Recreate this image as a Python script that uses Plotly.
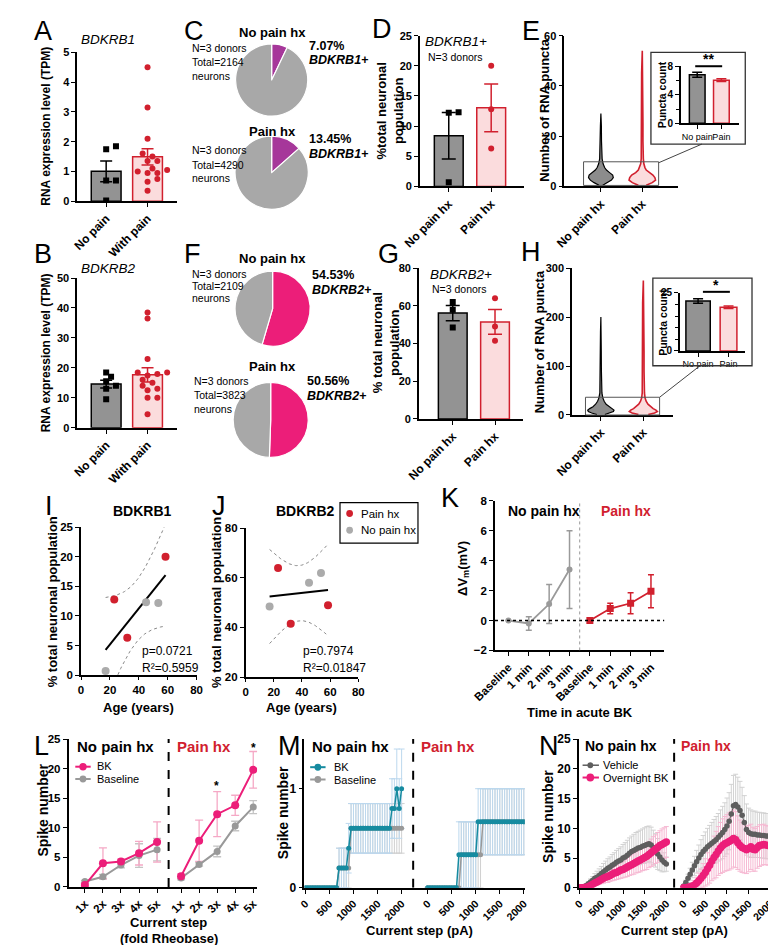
import numpy as np
import plotly.graph_objects as go

# ---------------- data ----------------
A_cats = ['No pain', 'With pain']
A_nopain = [1.85, 1.75, 0.7, 0.7, 0.02]
A_pain = [4.5, 3.15, 2.1, 1.6, 1.5, 1.35, 1.35, 1.1, 1.05, 1.0, 0.95, 0.95, 0.75, 0.65, 0.35]
B_nopain = [18.5, 17, 15.5, 14, 13, 9.5]
B_pain = [38.5, 36.5, 23, 18.5, 18.5, 18, 17.5, 16, 15, 14, 13, 12.5, 10, 10, 4.5]

C_pos = [7.07, 13.45]      # % BDKRB1+ neurons (no pain hx, pain hx)
C_total = [2164, 4290]
F_pos = [54.53, 50.56]     # % BDKRB2+ neurons
F_total = [2109, 3823]

hx_cats = ['No pain hx', 'Pain hx']
age_nopain = [17, 45, 53.5]
age_pain = [23, 32, 58.5]
B1_nopain = [0.7, 12.3, 12.2]
B1_pain = [12.8, 6.3, 20.0]
B2_nopain = [48.5, 58, 62]
B2_pain = [64, 41.5, 49]

# violin outlines: puncta value and relative density
E_vio_np_y = [0.5, 1.5, 2.5, 3.5, 4.5, 5.5, 6.5, 7.5, 9, 11, 14, 18, 24, 29]
E_vio_np_d = [0.15, 0.55, 0.85, 1.0, 0.95, 0.7, 0.45, 0.3, 0.18, 0.1, 0.07, 0.05, 0.04, 0.0]
E_vio_p_y = [0.5, 1.5, 2.5, 3.5, 4.5, 5.5, 6.5, 7.5, 9, 11, 14, 18, 25, 35, 45, 54]
E_vio_p_d = [0.3, 0.75, 1.0, 0.95, 0.8, 0.5, 0.3, 0.2, 0.12, 0.08, 0.06, 0.05, 0.05, 0.05, 0.05, 0.0]
H_vio_np_y = [1, 4, 7, 10, 13, 17, 22, 28, 35, 45, 60, 90, 130, 170, 200]
H_vio_np_d = [0.3, 0.7, 0.95, 1.0, 0.85, 0.6, 0.4, 0.25, 0.15, 0.08, 0.05, 0.04, 0.03, 0.03, 0.0]
H_vio_p_y = [1, 4, 7, 10, 13, 17, 22, 28, 35, 45, 60, 90, 130, 180, 230, 275]
H_vio_p_d = [0.35, 0.8, 1.0, 0.9, 0.7, 0.5, 0.33, 0.2, 0.12, 0.08, 0.06, 0.05, 0.05, 0.05, 0.05, 0.0]

inset_cats = ['No pain', 'Pain']
E_inset_mean = [6.8, 6.05]
E_inset_sem = [0.35, 0.18]
H_inset_mean = [21.5, 18.8]
H_inset_sem = [1.0, 0.5]

K_labels = ['Baseline', '1 min', '2 min', '3 min']
K_nopain = [0, -0.2, 1.1, 3.4]
K_nopain_err = [0, 0.45, 1.3, 2.6]
K_pain = [0, 0.8, 1.15, 1.95]
K_pain_err = [0, 0.35, 0.7, 1.1]

L_steps = ['1x', '2x', '3x', '4x', '5x']
L_np_bk = [0.3, 4.0, 4.3, 5.7, 7.6]
L_np_bk_err = [0.3, 2.6, 0.4, 2.0, 3.4]
L_np_base = [0.9, 1.7, 3.7, 5.3, 6.3]
L_np_base_err = [0.2, 0.4, 0.5, 2.0, 1.9]
L_p_bk = [1.8, 7.8, 12.3, 13.8, 19.8]
L_p_bk_err = [0.4, 3.5, 3.8, 1.7, 3.1]
L_p_base = [1.5, 3.8, 6.0, 10.3, 13.5]
L_p_base_err = [0.3, 0.3, 0.9, 0.8, 1.1]

step_pA = list(range(0, 2001, 50))
M_np_bk = [0]*14 + [0.2]*4 + [0.4] + [0.6]*17 + [0.8, 0.8, 1.0, 0.8, 1.0]
M_np_bk_err = [0]*14 + [0.2]*4 + [0.25] + [0.25]*17 + [0.3, 0.3, 0.4, 0.3, 0.4]
M_np_base = [0]*14 + [0.2]*5 + [0.6]*22
M_np_base_err = [0]*14 + [0.2]*5 + [0.25]*22
M_p_bk = [0]*13 + [0.333]*8 + [0.667]*20
M_p_bk_err = [0]*13 + [0.333]*8 + [0.333]*20
M_p_base = [0]*14 + [0.333]*9 + [0.667]*18
M_p_base_err = [0]*14 + [0.333]*9 + [0.333]*18

N_np_veh = [0, 0.05, 0.2, 0.4, 0.7, 1.0, 1.3, 1.6, 1.8, 2.1, 2.4, 2.7, 3.0, 3.3, 3.5, 3.8, 4.0,
            4.3, 4.5, 4.7, 5.0, 5.2, 5.5, 5.8, 6.1, 6.3, 6.5, 6.7, 6.8, 7.0, 7.1, 7.3, 7.4, 7.2,
            6.8, 6.3, 5.7, 5.2, 4.7, 4.3, 4.0]
N_np_veh_err = [0, 0, 0.1, 0.2, 0.3, 0.5, 0.6, 0.8, 1.0, 1.1, 1.2, 1.4, 1.5, 1.6, 1.7, 1.8, 1.9,
                2.0, 2.1, 2.2, 2.3, 2.4, 2.5, 2.6, 2.6, 2.7, 2.8, 2.8, 2.9, 2.9, 3.0, 3.0, 3.0, 3.0,
                2.9, 2.8, 2.6, 2.3, 2.0, 1.6, 1.2]
N_np_bk = [0, 0, 0.05, 0.1, 0.2, 0.4, 0.6, 0.8, 1.0, 1.2, 1.4, 1.6, 1.8, 1.9, 2.1, 2.3, 2.5,
           2.6, 2.8, 3.0, 3.1, 3.3, 3.5, 3.7, 3.9, 4.1, 4.3, 4.5, 4.7, 4.9, 5.1, 5.3, 5.6, 5.9,
           6.2, 6.5, 6.8, 7.1, 7.3, 7.5, 7.7]
N_np_bk_err = [0, 0, 0, 0.1, 0.1, 0.2, 0.3, 0.4, 0.5, 0.6, 0.7, 0.8, 0.9, 1.0, 1.0, 1.1, 1.2,
               1.2, 1.3, 1.4, 1.4, 1.5, 1.6, 1.6, 1.7, 1.8, 1.8, 1.9, 2.0, 2.0, 2.1, 2.2, 2.2, 2.3,
               2.4, 2.4, 2.5, 2.5, 2.6, 2.6, 2.6]
N_p_veh = [0.3, 0.9, 1.6, 2.3, 3.0, 3.7, 4.4, 5.0, 5.6, 6.1, 6.5, 6.9, 7.2, 7.5, 7.8, 8.1, 8.5,
           8.9, 9.3, 9.8, 10.4, 11.2, 12.4, 13.8, 14.0, 13.6, 13.0, 12.2, 11.0, 9.8, 9.3, 9.1,
           9.0, 9.0, 8.9, 8.9, 8.8, 8.8, 8.7, 8.7, 8.6]
N_p_veh_err = [0.2, 0.4, 0.7, 1.0, 1.3, 1.6, 1.9, 2.2, 2.5, 2.7, 2.9, 3.1, 3.3, 3.5, 3.7, 3.9,
               4.0, 4.2, 4.4, 4.5, 4.7, 4.8, 5.0, 5.1, 5.1, 5.0, 4.9, 4.7, 4.5, 4.3, 4.1, 4.0,
               3.9, 3.9, 3.8, 3.8, 3.8, 3.8, 3.8, 3.8, 3.9]
N_p_bk = [0, 0, 0.1, 0.2, 0.3, 0.5, 0.8, 1.2, 1.6, 2.1, 2.6, 3.2, 3.8, 4.5, 5.1, 5.6, 6.2, 6.7,
          7.1, 7.4, 7.6, 7.8, 8.0, 8.3, 8.1, 7.6, 7.1, 6.8, 6.6, 6.4, 6.6, 6.9, 6.5, 6.4, 6.8,
          7.1, 7.2, 7.3, 7.2, 7.1, 7.1]
N_p_bk_err = [0, 0, 0.1, 0.3, 0.5, 0.7, 1.0, 1.3, 1.6, 2.0, 2.3, 2.7, 3.0, 3.3, 3.6, 3.9, 4.1,
              4.3, 4.5, 4.6, 4.7, 4.8, 4.8, 4.8, 4.7, 4.5, 4.3, 4.2, 4.1, 4.0, 3.9, 3.8, 3.7,
              3.6, 3.5, 3.5, 3.4, 3.4, 3.3, 3.3, 3.2]

# ---------------- styling ----------------
W, H = 776, 945
FONT = 'Liberation Sans, Arial, Helvetica, sans-serif'
GRAY = '#939393'
RED = '#D1202E'
PINKFILL = '#FBDCDD'
PURPLE = '#A6379A'
MAGENTA = '#EC1E79'
PIEGRAY = '#A8A8A8'
LGRAY = '#ABABAB'
TEAL = '#168BA0'

fig = go.Figure()
layout = {}
anns = []
shapes = []
n_ax = [0]


def add_axes(x0, x1, y0, y1, xr, yr, xkw=None, ykw=None, fs=11):
    n_ax[0] += 1
    k = n_ax[0]
    s = '' if k == 1 else str(k)
    base = dict(showline=True, linecolor='black', linewidth=1.5, ticks='outside',
                ticklen=4, tickwidth=1.3, tickcolor='black', showgrid=False,
                zeroline=False, fixedrange=True,
                tickfont=dict(family=FONT, size=fs, color='black', weight='bold'))
    xa = dict(base, domain=[x0 / W, x1 / W], range=xr, anchor='y' + s)
    ya = dict(base, domain=[1 - y1 / H, 1 - y0 / H], range=yr, anchor='x' + s)
    xa.update(xkw or {})
    ya.update(ykw or {})
    layout['xaxis' + s] = xa
    layout['yaxis' + s] = ya
    return 'x' + s, 'y' + s


def txt(x, y, s, size=12, color='black', xa='left', ya='middle', angle=0):
    anns.append(dict(x=x / W, y=1 - y / H, xref='paper', yref='paper', text=s,
                     showarrow=False, xanchor=xa, yanchor=ya, textangle=angle,
                     font=dict(family=FONT, size=size, color=color)))


def pline(x0, y0, x1, y1, color='black', width=1, dash='solid'):
    shapes.append(dict(type='line', xref='paper', yref='paper', x0=x0 / W, x1=x1 / W,
                       y0=1 - y0 / H, y1=1 - y1 / H, line=dict(color=color, width=width, dash=dash)))


def prect(x0, y0, x1, y1, color='#444', width=1.2):
    shapes.append(dict(type='rect', xref='paper', yref='paper', x0=x0 / W, x1=x1 / W,
                       y0=1 - y1 / H, y1=1 - y0 / H, line=dict(color=color, width=width)))


def pdot(x, y, r, color):
    shapes.append(dict(type='circle', xref='paper', yref='paper', x0=(x - r) / W, x1=(x + r) / W,
                       y0=1 - (y + r) / H, y1=1 - (y - r) / H, fillcolor=color,
                       line=dict(color=color, width=0)))


def swarm(vals, unit_px, cat_px, d=6.0):
    vals = np.asarray(vals, float)
    placed, offs = [], np.zeros(len(vals))
    for i in np.argsort(vals):
        y = vals[i] * unit_px
        for k in [0, 1, -1, 2, -2, 3, -3, 4, -4]:
            x = k * d * 0.85
            if all((x - a) ** 2 + (y - b) ** 2 >= d * d for a, b in placed):
                break
        placed.append((x, y))
        offs[i] = x / cat_px
    return offs


def err_trace(x, y, err, color, xa, ya, thick=1.5, cap=6):
    fig.add_trace(go.Scatter(x=x, y=y, mode='markers', xaxis=xa, yaxis=ya,
                             marker=dict(size=1, color='rgba(0,0,0,0)'),
                             error_y=dict(type='data', array=err, color=color,
                                          thickness=thick, width=cap),
                             hoverinfo='skip'))


def bar_panel(xa, ya, groups, width, unit_px, cat_px, cap=6, psize=6):
    means, sems = [], []
    for v in groups:
        v = np.asarray(v, float)
        means.append(v.mean())
        sems.append(v.std(ddof=1) / np.sqrt(len(v)))
    fig.add_trace(go.Bar(x=[0, 1], y=means, width=width, xaxis=xa, yaxis=ya,
                         marker=dict(color=[GRAY, PINKFILL],
                                     line=dict(color=['black', RED], width=1.5))))
    err_trace([0], [means[0]], [sems[0]], 'black', xa, ya, cap=cap)
    err_trace([1], [means[1]], [sems[1]], RED, xa, ya, cap=cap)
    for i, v in enumerate(groups):
        offs = swarm(v, unit_px, cat_px)
        fig.add_trace(go.Scatter(x=i + offs, y=v, mode='markers', xaxis=xa, yaxis=ya,
                                 marker=dict(symbol='square' if i == 0 else 'circle',
                                             size=psize, color='black' if i == 0 else RED)))


def violin(xa, ya, c, ys, ds, half, fill, edge, lw):
    ys = np.asarray(ys, float)
    w = half * np.asarray(ds, float)
    xs = np.concatenate([c + w, (c - w)[::-1]])
    yy = np.concatenate([ys, ys[::-1]])
    fig.add_trace(go.Scatter(x=xs, y=yy, mode='lines', fill='toself', fillcolor=fill,
                             line=dict(color=edge, width=lw), xaxis=xa, yaxis=ya))


def fit_band(x, y):
    x = np.asarray(x, float)
    y = np.asarray(y, float)
    b, a = np.polyfit(x, y, 1)
    xs = np.linspace(x.min(), x.max(), 80)
    n = len(x)
    s = np.sqrt(np.sum((y - (a + b * x)) ** 2) / (n - 2))
    se = s * np.sqrt(1 / n + (xs - x.mean()) ** 2 / np.sum((x - x.mean()) ** 2))
    t = 2.776  # t(0.975, df=4)
    yh = a + b * xs
    return xs, yh, yh - t * se, yh + t * se


def cat_kw(labels, ang=-45, fs=12, bold=True):
    return dict(tickvals=list(range(len(labels))), ticktext=labels, tickangle=ang,
                tickfont=dict(family=FONT, size=fs, color='black',
                              weight='bold' if bold else 'normal'))


MINOR = dict(ticks='outside', ticklen=3, tickwidth=1.2, tickcolor='black', showgrid=False)

# ---------------- A / B ----------------
xa, ya = add_axes(48, 152, 38, 189, [-0.70, 1.72], [0, 5], cat_kw(A_cats), dict(dtick=1))
bar_panel(xa, ya, [A_nopain, A_pain], 0.72, 151 / 5, 43)
txt(50, 25, '<i>BDKRB1</i>', 13.5)
txt(16, 113, '<b>RNA expression level (TPM)</b>', 12, xa='center', angle=-90)

xa, ya = add_axes(48, 152, 267, 419, [-0.70, 1.72], [0, 50], cat_kw(A_cats), dict(dtick=10))
bar_panel(xa, ya, [B_nopain, B_pain], 0.72, 152 / 50, 43)
txt(50, 257, '<i>BDKRB2</i>', 13.5)
txt(16, 343, '<b>RNA expression level (TPM)</b>', 12, xa='center', angle=-90)

# ---------------- C / F pies ----------------
pies = [(250, 66, 37.5, C_pos[0], PURPLE), (250, 160, 38, C_pos[1], PURPLE),
        (251, 298, 39, F_pos[0], MAGENTA), (249, 411, 39, F_pos[1], MAGENTA)]
for cx, cy, r, pos, col in pies:
    fig.add_trace(go.Pie(values=[pos, 100 - pos], labels=['pos', 'neg'], sort=False,
                         direction='clockwise', textinfo='none', hoverinfo='skip',
                         marker=dict(colors=[col, PIEGRAY], line=dict(color='white', width=1.2)),
                         domain=dict(x=[(cx - r) / W, (cx + r) / W], y=[1 - (cy + r) / H, 1 - (cy - r) / H])))

pie_txt = [(18, 33, 48, 62, 165, 31, 46, 287, C_pos[0], C_total[0], 'BDKRB1+', 'No pain hx'),
           (118, 137, 152, 165, 165, 126, 141, 287, C_pos[1], C_total[1], 'BDKRB1+', 'Pain hx'),
           (247, 263, 275, 287, 165, 264, 279, 290, F_pos[0], F_total[0], 'BDKRB2+', 'No pain hx'),
           (357, 372, 386, 400, 167, 372, 387, 285, F_pos[1], F_total[1], 'BDKRB2+', 'Pain hx')]
for ty, l1, l2, l3, lx, r1, r2, rx, pos, tot, gene, title in pie_txt:
    txt(251, ty, '<b>%s</b>' % title, 13, xa='center')
    txt(lx, l1, 'N=3 donors', 10.5)
    txt(lx, l2, 'Total=%d' % tot, 10.5)
    txt(lx, l3, 'neurons', 10.5)
    txt(rx, r1, '<b>%.2f%%</b>' % pos, 12.5)
    txt(rx, r2, '<b><i>%s</i></b>' % gene, 12.5)

# ---------------- D / G ----------------
xa, ya = add_axes(404, 512, 21, 174, [-0.68, 1.77], [0, 25], cat_kw(hx_cats), dict(dtick=5))
bar_panel(xa, ya, [B1_nopain, B1_pain], 0.68, 153 / 25, 44, cap=7)
txt(407, 27, '<i>BDKRB1+</i>', 13.5)
txt(410, 43, 'N=3 donors', 10.5)
txt(373, 97, '<b>%total neuronal<br>population</b>', 13, xa='center', angle=-90)

xa, ya = add_axes(403, 511, 257, 410, [-0.80, 1.66], [0, 80], cat_kw(hx_cats), dict(dtick=20))
bar_panel(xa, ya, [B2_nopain, B2_pain], 0.68, 153 / 80, 44, cap=7)
txt(412, 263, '<i>BDKRB2+</i>', 13.5)
txt(415, 278, 'N=3 donors', 10.5)
txt(369, 333, '<b>% total neuronal<br>population</b>', 13, xa='center', angle=-90)

# ---------------- E / H violins ----------------
xa, ya = add_axes(554, 672, 21, 174, [-0.884, 1.86], [0, 60], cat_kw(hx_cats), dict(dtick=20))
violin(xa, ya, 0, E_vio_np_y, E_vio_np_d, 0.30, '#8C8C8C', 'black', 1.2)
violin(xa, ya, 1, E_vio_p_y, E_vio_p_d, 0.32, PINKFILL, RED, 1.6)
txt(533, 97, '<b>Number of RNA puncta</b>', 13, xa='center', angle=-90)
prect(574, 149, 652, 173, '#555', 1)
pline(652, 150, 697, 131, '#444', 1)
prect(644, 38, 742, 131, '#333', 1.3)
xa, ya = add_axes(675, 735, 52, 110, [-0.68, 1.71], [0, 8], cat_kw(inset_cats, 0, 9, False),
                  dict(tickvals=[0, 4, 8], minor=dict(MINOR, dtick=2)), fs=10)
fig.add_trace(go.Bar(x=[0, 1], y=E_inset_mean, width=0.65, xaxis=xa, yaxis=ya,
                     marker=dict(color=[GRAY, PINKFILL], line=dict(color=['black', RED], width=1.5))))
err_trace([0], [E_inset_mean[0]], [E_inset_sem[0]], 'black', xa, ya, cap=5)
err_trace([1], [E_inset_mean[1]], [E_inset_sem[1]], RED, xa, ya, cap=5)
pline(690, 52, 718, 52, 'black', 2)
txt(704, 45, '<b>**</b>', 14, xa='center')
txt(655, 81, '<b>Puncta count</b>', 10.5, xa='center', angle=-90)

xa, ya = add_axes(562, 667, 257, 406, [-0.68, 1.70], [0, 300], cat_kw(hx_cats), dict(dtick=100))
violin(xa, ya, 0, H_vio_np_y, H_vio_np_d, 0.31, '#8C8C8C', 'black', 1.2)
violin(xa, ya, 1, H_vio_p_y, H_vio_p_d, 0.33, PINKFILL, RED, 1.6)
txt(528, 332, '<b>Number of RNA puncta</b>', 13, xa='center', angle=-90)
prect(576, 388, 653, 406, '#555', 1)
pline(653, 388, 695, 356, '#444', 1)
prect(646, 267, 749, 356, '#333', 1.3)
xa, ya = add_axes(674, 742, 282, 341, [-0.6, 1.55], [0, 25], cat_kw(inset_cats, 0, 9, False),
                  dict(tickvals=[0, 25], minor=dict(MINOR, dtick=5)), fs=10)
fig.add_trace(go.Bar(x=[0, 1], y=H_inset_mean, width=[0.8, 0.55], xaxis=xa, yaxis=ya,
                     marker=dict(color=[GRAY, PINKFILL], line=dict(color=['black', RED], width=1.5))))
err_trace([0], [H_inset_mean[0]], [H_inset_sem[0]], 'black', xa, ya, cap=5)
err_trace([1], [H_inset_mean[1]], [H_inset_sem[1]], RED, xa, ya, cap=5)
pline(698, 281, 726, 281, 'black', 2)
txt(712, 274, '<b>*</b>', 14, xa='center')
txt(657, 312, '<b>Puncta count</b>', 10.5, xa='center', angle=-90)

# ---------------- I / J regressions ----------------
for (x0, x1, y0, y1, yr, dt, vals_np, vals_p, title, ptxt, rtxt, tx, ytx) in [
        (52, 172, 520, 670, [0, 25], 5, B1_nopain, B1_pain, 'BDKRB1', 'p=0.0721', 'R²=0.5959', 113, 22),
        (223, 340, 521, 672, [20, 80], 20, B2_nopain, B2_pain, 'BDKRB2', 'p=0.7974', 'R²=0.01847', 280, 192)]:
    xa, ya = add_axes(x0, x1, y0, y1, [0, 80], yr, dict(dtick=20, ticklen=3), dict(dtick=dt), fs=11.5)
    ages = age_nopain + age_pain
    xs, yh, lo, hi = fit_band(ages, vals_np + vals_p)
    for band in (lo, hi):
        fig.add_trace(go.Scatter(x=xs, y=band, mode='lines', xaxis=xa, yaxis=ya,
                                 line=dict(color='#888', width=1, dash='dot')))
    fig.add_trace(go.Scatter(x=[xs[0], xs[-1]], y=[yh[0], yh[-1]], mode='lines', xaxis=xa, yaxis=ya,
                             line=dict(color='black', width=2)))
    fig.add_trace(go.Scatter(x=age_nopain, y=vals_np, mode='markers', xaxis=xa, yaxis=ya,
                             marker=dict(size=8, color=LGRAY)))
    fig.add_trace(go.Scatter(x=age_pain, y=vals_p, mode='markers', xaxis=xa, yaxis=ya,
                             marker=dict(size=8, color=RED)))
    txt((x0 + x1) / 2 + 4, 503, '<b>%s</b>' % title, 14, xa='center')
    txt(tx, 646, ptxt, 12)
    txt(tx, 663, rtxt, 12)
    txt((x0 + x1) / 2, 703, '<b>Age (years)</b>', 13, xa='center')
    txt(ytx, 596, '<b>% total neuronal population</b>', 13, xa='center', angle=-90)

prect(321, 495, 402, 536, 'black', 1.2)
pdot(331, 506, 3.5, RED)
pdot(331, 523, 3.5, LGRAY)
txt(341, 506, 'Pain hx', 11.5)
txt(341, 523, 'No pain hx', 11.5)

# ---------------- K ----------------
xa, ya = add_axes(482, 658, 493, 645, [-0.66, 7.66], [-2, 8],
                  dict(tickvals=list(range(8)), ticktext=K_labels * 2, tickangle=-45),
                  dict(dtick=2), fs=11.5)
shapes.append(dict(type='line', xref=xa, yref=ya, x0=-0.66, x1=7.66, y0=0, y1=0,
                   line=dict(color='black', width=1.5, dash='dot')))
shapes.append(dict(type='line', xref=xa, yref=ya, x0=3.5, x1=3.5, y0=-2, y1=8,
                   line=dict(color='#999', width=1, dash='dot')))
fig.add_trace(go.Scatter(x=[0, 1, 2, 3], y=K_nopain, mode='lines+markers', xaxis=xa, yaxis=ya,
                         line=dict(color='#9A9A9A', width=1.8),
                         marker=dict(size=6, color='#9A9A9A'),
                         error_y=dict(type='data', array=K_nopain_err, color='#9A9A9A', thickness=1.5, width=3)))
fig.add_trace(go.Scatter(x=[4, 5, 6, 7], y=K_pain, mode='lines+markers', xaxis=xa, yaxis=ya,
                         line=dict(color=RED, width=1.8),
                         marker=dict(size=7, color=RED, symbol='square'),
                         error_y=dict(type='data', array=K_pain_err, color=RED, thickness=1.5, width=3)))
txt(493, 503, '<b>No pain hx</b>', 14)
txt(590, 503, '<b>Pain hx</b>', 14, color=RED)
txt(449, 562, '<b>ΔV<sub>m</sub>(mV)</b>', 13, xa='center', angle=-90)
txt(570, 708, '<b>Time in acute BK</b>', 13, xa='center')

# ---------------- L ----------------
L_OFF = 5.33
xa, ya = add_axes(39, 235, 735, 885, [-0.907, 9.55], [0, 25],
                  dict(tickvals=[i for i in range(5)] + [i + L_OFF for i in range(5)],
                       ticktext=L_steps * 2, tickangle=-45),
                  dict(dtick=5), fs=11.5)
shapes.append(dict(type='line', xref=xa, yref=ya, x0=4.64, x1=4.64, y0=0, y1=25,
                   line=dict(color='black', width=2, dash='dash')))
pos_np = list(range(5))
pos_p = [i + L_OFF for i in range(5)]
for xs_, base, base_e, bk, bk_e in [(pos_np, L_np_base, L_np_base_err, L_np_bk, L_np_bk_err),
                                    (pos_p, L_p_base, L_p_base_err, L_p_bk, L_p_bk_err)]:
    err_trace(xs_, base, base_e, '#C4C4C4', xa, ya, thick=1.3, cap=4)
    err_trace(xs_, bk, bk_e, '#F5A8C5', xa, ya, thick=1.3, cap=4)
    fig.add_trace(go.Scatter(x=xs_, y=base, mode='lines+markers', xaxis=xa, yaxis=ya,
                             line=dict(color='#999', width=2), marker=dict(size=7, color='#999')))
    fig.add_trace(go.Scatter(x=xs_, y=bk, mode='lines+markers', xaxis=xa, yaxis=ya,
                             line=dict(color=MAGENTA, width=2), marker=dict(size=8, color=MAGENTA)))
txt(46, 742, '<b>No pain hx</b>', 15)
txt(150, 742, '<b>Pain hx</b>', 15, color=RED)
txt(193, 783, '<b>*</b>', 12, xa='center')
txt(231, 744, '<b>*</b>', 12, xa='center')
pline(46, 763, 62, 763, MAGENTA, 2)
pdot(54, 763, 3.8, MAGENTA)
txt(66, 762.5, 'BK', 11)
pline(46, 775.5, 62, 775.5, '#999', 2)
pdot(54, 775.5, 3.5, '#999')
txt(66, 775.5, 'Baseline', 11)
txt(12, 807, '<b>Spike number</b>', 14, xa='center', angle=-90)
txt(143, 921, '<b>Current step</b>', 13, xa='center')
txt(143, 937, '<b>(fold Rheobase)</b>', 13, xa='center')

# ---------------- M ----------------
M_OFF = 2540
ticks_pA = [0, 500, 1000, 1500, 2000]
xa, ya = add_axes(284, 513, 735, 886, [-20, 4560], [0, 1.5],
                  dict(tickvals=ticks_pA + [t + M_OFF for t in ticks_pA],
                       ticktext=[str(t) for t in ticks_pA] * 2, tickangle=-45,
                       tickfont=dict(family=FONT, size=10.5, color='black', weight='bold')),
                  dict(tickvals=[0, 1]), fs=12)
shapes.append(dict(type='line', xref=xa, yref=ya, x0=2240, x1=2240, y0=0, y1=1.5,
                   line=dict(color='black', width=2, dash='dash')))
sp_np = step_pA
sp_p = [s + M_OFF for s in step_pA]
for xs_, base, base_e, bk, bk_e in [(sp_np, M_np_base, M_np_base_err, M_np_bk, M_np_bk_err),
                                    (sp_p, M_p_base, M_p_base_err, M_p_bk, M_p_bk_err)]:
    err_trace(xs_, base, base_e, '#D0D0D0', xa, ya, thick=1, cap=3)
    err_trace(xs_, bk, bk_e, '#BCD8EE', xa, ya, thick=1, cap=3)
    fig.add_trace(go.Scatter(x=xs_, y=base, mode='lines+markers', xaxis=xa, yaxis=ya,
                             line=dict(color='#999', width=1.5), marker=dict(size=5, color='#999')))
    fig.add_trace(go.Scatter(x=xs_, y=bk, mode='lines+markers', xaxis=xa, yaxis=ya,
                             line=dict(color=TEAL, width=1.5), marker=dict(size=5, color=TEAL)))
txt(290, 742, '<b>No pain hx</b>', 15)
txt(403, 742, '<b>Pain hx</b>', 15, color=RED)
pline(290, 763.5, 306, 763.5, TEAL, 2)
pdot(298, 763.5, 3.5, TEAL)
txt(313, 763, 'BK', 11)
pline(290, 776, 306, 776, '#999', 2)
pdot(298, 776, 3.5, '#999')
txt(313, 776, 'Baseline', 11)
txt(262, 810, '<b>Spike number</b>', 14, xa='center', angle=-90)
txt(404, 929, '<b>Current step (pA)</b>', 13, xa='center')

# ---------------- N ----------------
N_OFF = 2400
xa, ya = add_axes(569, 768, 735, 886, [-22, 4400], [0, 25],
                  dict(tickvals=ticks_pA + [t + N_OFF for t in ticks_pA],
                       ticktext=[str(t) for t in ticks_pA] * 2, tickangle=-45,
                       tickfont=dict(family=FONT, size=10.5, color='black', weight='bold')),
                  dict(dtick=5), fs=12)
shapes.append(dict(type='line', xref=xa, yref=ya, x0=2180, x1=2180, y0=0, y1=25,
                   line=dict(color='black', width=2, dash='dash')))
sp_p = [s + N_OFF for s in step_pA]
for xs_, veh, veh_e, bk, bk_e in [(sp_np, N_np_veh, N_np_veh_err, N_np_bk, N_np_bk_err),
                                  (sp_p, N_p_veh, N_p_veh_err, N_p_bk, N_p_bk_err)]:
    err_trace(xs_, veh, veh_e, '#D2D2D2', xa, ya, thick=1, cap=2.5)
    err_trace(xs_, bk, bk_e, '#F6B8D2', xa, ya, thick=1, cap=2.5)
    fig.add_trace(go.Scatter(x=xs_, y=veh, mode='lines+markers', xaxis=xa, yaxis=ya,
                             line=dict(color='#5E5E5E', width=1), marker=dict(size=5.5, color='#5E5E5E')))
    fig.add_trace(go.Scatter(x=xs_, y=bk, mode='lines+markers', xaxis=xa, yaxis=ya,
                             line=dict(color=MAGENTA, width=1.5), marker=dict(size=7.5, color=MAGENTA)))
txt(573, 742, '<b>No pain hx</b>', 14)
txt(673, 742, '<b>Pain hx</b>', 14, color=RED)
pline(573, 761.5, 590, 761.5, '#5E5E5E', 1.5)
pdot(581, 761.5, 3, '#5E5E5E')
txt(592, 761, 'Vehicle', 11)
pline(573, 774, 590, 774, MAGENTA, 2)
pdot(581, 774, 4, MAGENTA)
txt(592, 774, 'Overnight BK', 11)
txt(537, 813, '<b>Spike number</b>', 14, xa='center', angle=-90)
txt(668, 929, '<b>Current step (pA)</b>', 13, xa='center')

# ---------------- panel letters ----------------
for L_, lx, ly in [('A', 1, 16), ('B', 1, 243), ('C', 157, 16), ('D', 352, 14), ('E', 508, 16),
                   ('F', 157, 243), ('G', 358, 243), ('H', 507, 241), ('I', 12, 498),
                   ('J', 186, 498), ('K', 424, 490), ('L', 1, 742), ('M', 254, 742), ('N', 526, 742)]:
    txt(lx, ly, L_, 27)

fig.update_layout(**layout)
fig.update_layout(width=W, height=H, margin=dict(l=0, r=0, t=0, b=0),
                  paper_bgcolor='white', plot_bgcolor='rgba(0,0,0,0)',
                  showlegend=False, barmode='overlay', annotations=anns, shapes=shapes,
                  font=dict(family=FONT, color='black'))
fig.write_html('out.html')
